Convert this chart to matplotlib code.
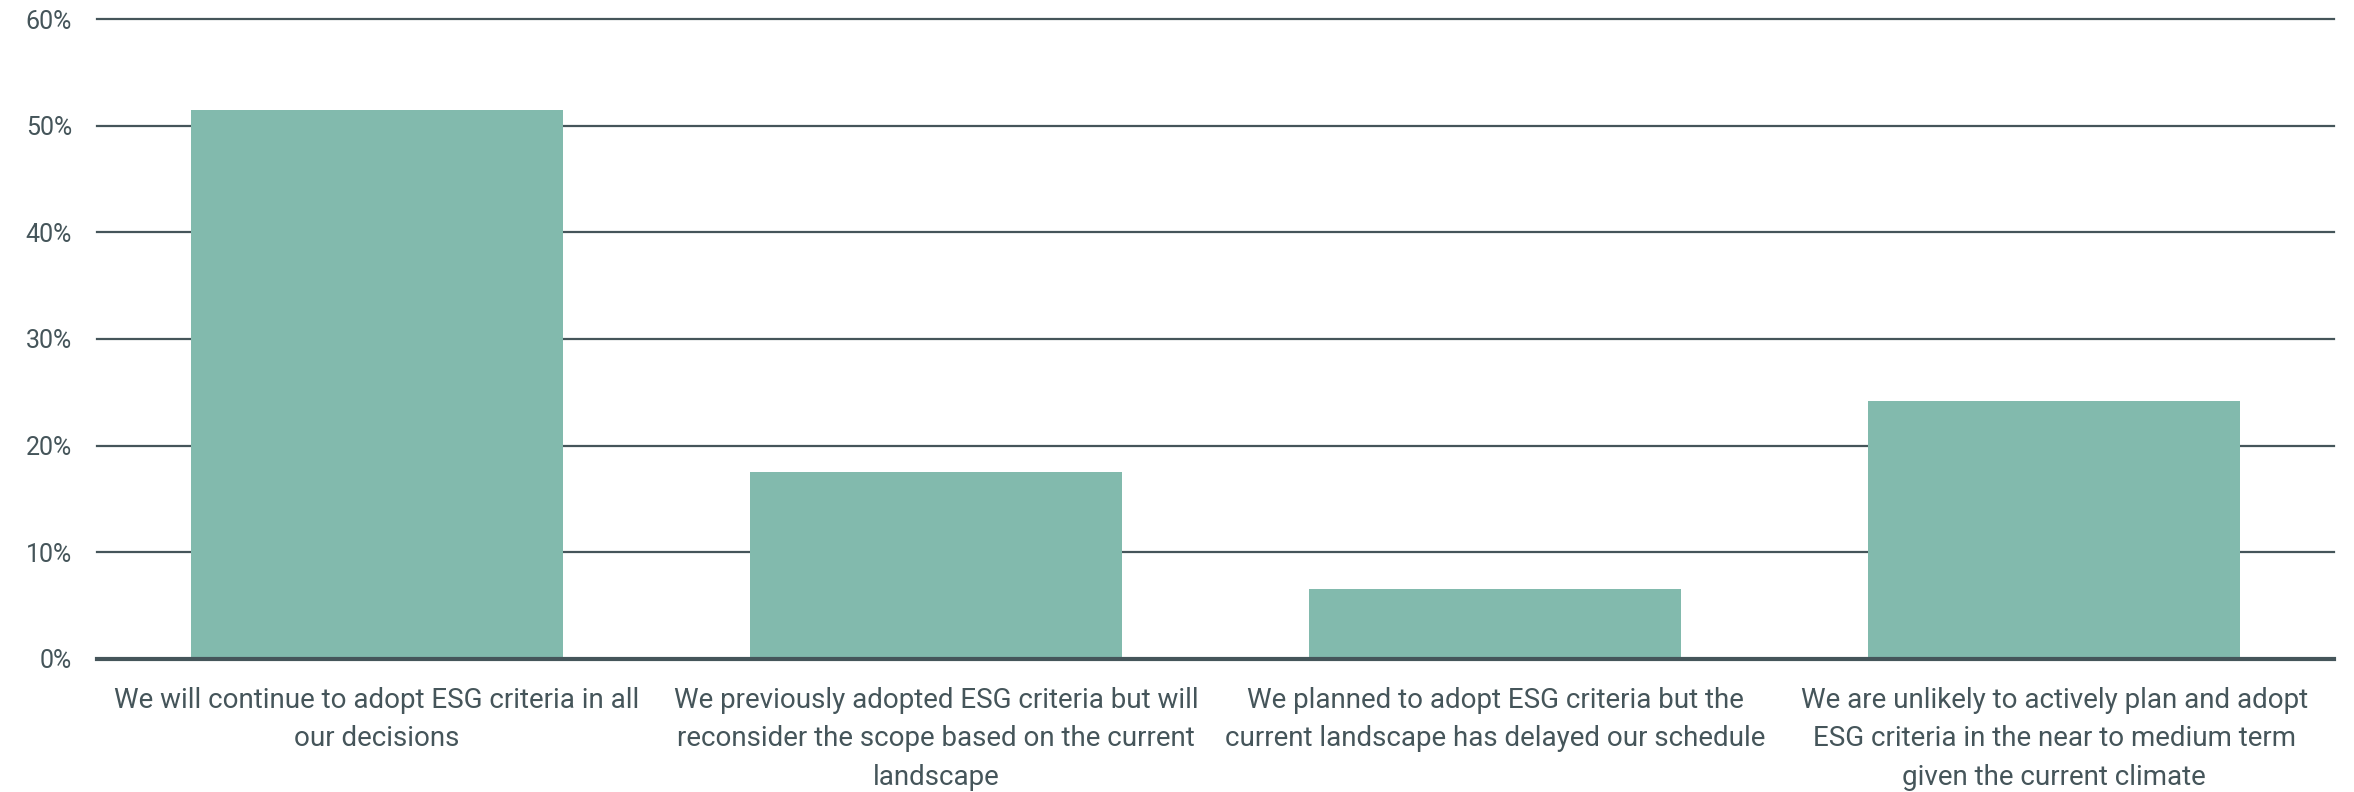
import matplotlib
matplotlib.use('Agg')
import matplotlib.pyplot as plt
from matplotlib.ticker import PercentFormatter

categories = [
    "We will continue to adopt ESG criteria in all\nour decisions",
    "We previously adopted ESG criteria but will\nreconsider the scope based on the current\nlandscape",
    "We planned to adopt ESG criteria but the\ncurrent landscape has delayed our schedule",
    "We are unlikely to actively plan and adopt\nESG criteria in the near to medium term\ngiven the current climate",
]
shares = [51.5, 17.5, 6.6, 24.2]
y_ticks = [0, 10, 20, 30, 40, 50, 60]

plt.rcParams['font.family'] = ['Roboto', 'DejaVu Sans']

BAR = '#82baad'
INK = '#45555a'

fig = plt.figure(figsize=(23.54, 7.92), dpi=100)
ax = fig.add_axes([0.0412, 0.168, 0.9503, 0.808])

x = range(len(categories))
ax.bar(x, shares, width=0.665, color=BAR, zorder=3)

ax.set_xlim(-0.5, len(categories) - 0.5)
ax.set_ylim(0, 60)
ax.set_yticks(y_ticks)
ax.yaxis.set_major_formatter(PercentFormatter(decimals=0))
ax.grid(axis='y', color=INK, linewidth=1.6, zorder=1)
for gl in ax.get_ygridlines():
    gl.set_clip_on(False)
ax.axhline(0, color=INK, linewidth=3, zorder=4, clip_on=False)

for s in ax.spines.values():
    s.set_visible(False)
ax.tick_params(axis='y', length=0, pad=18, labelsize=18, labelcolor=INK)
ax.tick_params(axis='x', length=0, pad=20, labelsize=20, labelcolor=INK)
ax.set_xticks(list(x))
ax.set_xticklabels(categories, linespacing=1.55)

fig.savefig('out.png', dpi=100, facecolor='white')
